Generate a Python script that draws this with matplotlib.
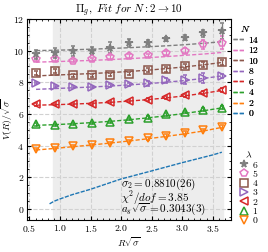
import numpy as np
import matplotlib
matplotlib.use("Agg")
import matplotlib.pyplot as plt
from matplotlib.lines import Line2D
from matplotlib.ticker import AutoMinorLocator

plt.rcParams["font.family"] = "serif"
plt.rcParams["font.serif"] = ["cmr10"]
plt.rcParams["mathtext.fontset"] = "cm"
plt.rcParams["axes.formatter.use_mathtext"] = True
plt.rcParams["font.size"] = 7

# R = 2..12 in lattice units, times a_s*sqrt(sigma)
a_sqrt_sigma = 0.3043
R = np.arange(2, 13)
x = R * a_sqrt_sigma

# N labels, lambda labels
N_vals = [0, 2, 4, 6, 8, 10, 12, 14]
lam_vals = [0, 1, 2, 3, 4, 5, 6]
colors = ["tab:blue", "tab:orange", "tab:green", "tab:red",
          "tab:purple", "tab:brown", "tab:pink", "tab:gray"]
markers = ["v", "^", "<", ">", "s", "p", "*"]

# measured levels (lambda = 0..6)
y_data = [
    [3.77, 3.83, 3.99, 4.06, 4.16, 4.29, 4.46, 4.63, 4.81, 4.98, 5.19],
    [5.34, 5.30, 5.36, 5.43, 5.51, 5.68, 5.76, 5.97, 6.12, 6.27, 6.39],
    [6.60, 6.60, 6.60, 6.64, 6.73, 6.81, 6.90, 7.05, 7.17, 7.34, 7.51],
    [7.95, 7.78, 7.70, 7.68, 7.80, 7.87, 7.93, 8.12, 8.16, 8.28, 8.39],
    [8.60, 8.69, 8.43, 8.43, 8.47, 8.54, 8.77, 8.81, 9.02, 9.10, 9.27],
    [9.44, 9.48, 9.36, 9.46, 9.59, 9.67, 9.69, 9.86, 9.99, 10.39, 10.50],
    [9.76, 9.86, 9.97, 9.97, 10.18, 10.50, 10.45, 10.73, 10.81, 11.08, 11.25],
]
y_err = [
    [0.08, 0.06, 0.06, 0.06, 0.07, 0.07, 0.08, 0.08, 0.08, 0.09, 0.10],
    [0.08, 0.06, 0.06, 0.06, 0.07, 0.07, 0.08, 0.08, 0.08, 0.09, 0.10],
    [0.08, 0.06, 0.06, 0.06, 0.07, 0.07, 0.08, 0.08, 0.08, 0.09, 0.10],
    [0.08, 0.06, 0.06, 0.06, 0.08, 0.08, 0.15, 0.15, 0.30, 0.30, 0.12],
    [0.12, 0.12, 0.10, 0.10, 0.10, 0.10, 0.12, 0.15, 0.15, 0.15, 0.15],
    [0.12, 0.12, 0.10, 0.10, 0.12, 0.12, 0.12, 0.12, 0.15, 0.30, 0.40],
    [0.30, 0.30, 0.30, 0.25, 0.35, 0.25, 0.20, 0.15, 0.15, 0.20, 0.50],
]

# fitted curves for N = 2..14
y_fit = [
    [3.72, 3.82, 3.93, 4.04, 4.16, 4.29, 4.43, 4.58, 4.74, 4.92, 5.15],
    [5.28, 5.32, 5.38, 5.45, 5.53, 5.63, 5.75, 5.88, 6.03, 6.20, 6.38],
    [6.55, 6.58, 6.62, 6.67, 6.73, 6.81, 6.90, 7.01, 7.14, 7.30, 7.48],
    [7.55, 7.60, 7.65, 7.70, 7.76, 7.83, 7.91, 8.00, 8.11, 8.24, 8.40],
    [8.40, 8.45, 8.50, 8.55, 8.61, 8.68, 8.76, 8.86, 8.97, 9.10, 9.25],
    [9.27, 9.30, 9.34, 9.38, 9.43, 9.49, 9.55, 9.62, 9.70, 9.78, 9.88],
    [10.00, 10.02, 10.05, 10.09, 10.13, 10.18, 10.24, 10.30, 10.37, 10.46, 10.56],
]

# N = 0 curve
x0 = [0.83, 0.90, 1.00, 1.20, 1.50, 2.00, 2.50, 3.00, 3.50, 3.65]
y0 = [0.32, 0.48, 0.63, 0.90, 1.24, 1.89, 2.40, 2.92, 3.41, 3.58]

fig = plt.figure(figsize=(2.68, 2.52), dpi=100)
ax = fig.add_axes([0.10, 0.127, 0.762, 0.798])

ax.axvspan(x[1] - 0.02, x[-1] + 0.01, color="0.93", zorder=0)

ax.plot(x0, y0, "--", color=colors[0], lw=1.0, dashes=(3, 1))
for i in range(7):
    c = colors[i + 1]
    ax.plot(x, y_fit[i], "--", color=c, lw=1.0, dashes=(3, 1.5))
    fc = c if markers[i] == "*" else "none"
    ax.errorbar(x, y_data[i], yerr=y_err[i], fmt=markers[i], color=c,
                mfc=fc, mec=c, ms=5.5, mew=1.1, elinewidth=0.8, capsize=1.5)

ax.text(2.0, 1.53, r"$\sigma_2 = 0.8810(26)$", va="center", fontsize=8)
ax.text(2.0, 0.70, r"$\chi^2/dof = 3.85$", va="center", fontsize=8)
ax.text(2.0, -0.02, r"$a_s\sqrt{\sigma} = 0.3043(3)$", va="center", fontsize=8)

ax.set_xlim(0.457, 3.80)
ax.set_ylim(-0.7, 12)
ax.set_xticks([0.5, 1.0, 1.5, 2.0, 2.5, 3.0, 3.5])
ax.set_yticks([0, 2, 4, 6, 8, 10, 12])
ax.xaxis.set_minor_locator(AutoMinorLocator())
ax.yaxis.set_minor_locator(AutoMinorLocator())
ax.tick_params(which="both", direction="in", top=True, right=True, pad=2)
ax.tick_params(which="major", length=3)
ax.tick_params(which="minor", length=1.5)
ax.grid(True, which="major", ls="--", color="0.82", lw=0.8)
ax.set_axisbelow(True)

ax.set_xlabel(r"$R\sqrt{\sigma}$", labelpad=1)
ax.set_ylabel(r"$V(R)/\sqrt{\sigma}$")
ax.yaxis.set_label_coords(-0.06, 0.5)
ax.set_title(r"$\Pi_g,\ Fit\ for\ N: 2 \rightarrow 10$", fontsize=8, pad=4)

# legend for N (fit curves)
h_N = [Line2D([], [], color=colors[k], lw=1.0, dashes=(3, 1.5)) for k in range(8)][::-1]
leg1 = fig.legend(h_N, [str(n) for n in N_vals][::-1], title=r"$N$",
                  loc="upper left", bbox_to_anchor=(0.855, 0.92),
                  frameon=False, handlelength=1.2, handletextpad=0.4,
                  labelspacing=0.18, fontsize=7, title_fontsize=7,
                  borderaxespad=0)
fig.add_artist(leg1)

h_L = []
for i in range(7):
    c = colors[i + 1]
    fc = c if markers[i] == "*" else "none"
    h_L.append(Line2D([], [], ls="none", marker=markers[i], color=c,
                      mfc=fc, mec=c, ms=5.5, mew=1.1))
h_L = h_L[::-1]
fig.legend(h_L, [str(l) for l in lam_vals][::-1], title=r"$\lambda$",
           loc="upper left", bbox_to_anchor=(0.88, 0.42),
           frameon=False, handlelength=0.8, handletextpad=0.5,
           labelspacing=0.05, fontsize=7, title_fontsize=7,
           borderaxespad=0)

fig.savefig("out.png", dpi=100)
